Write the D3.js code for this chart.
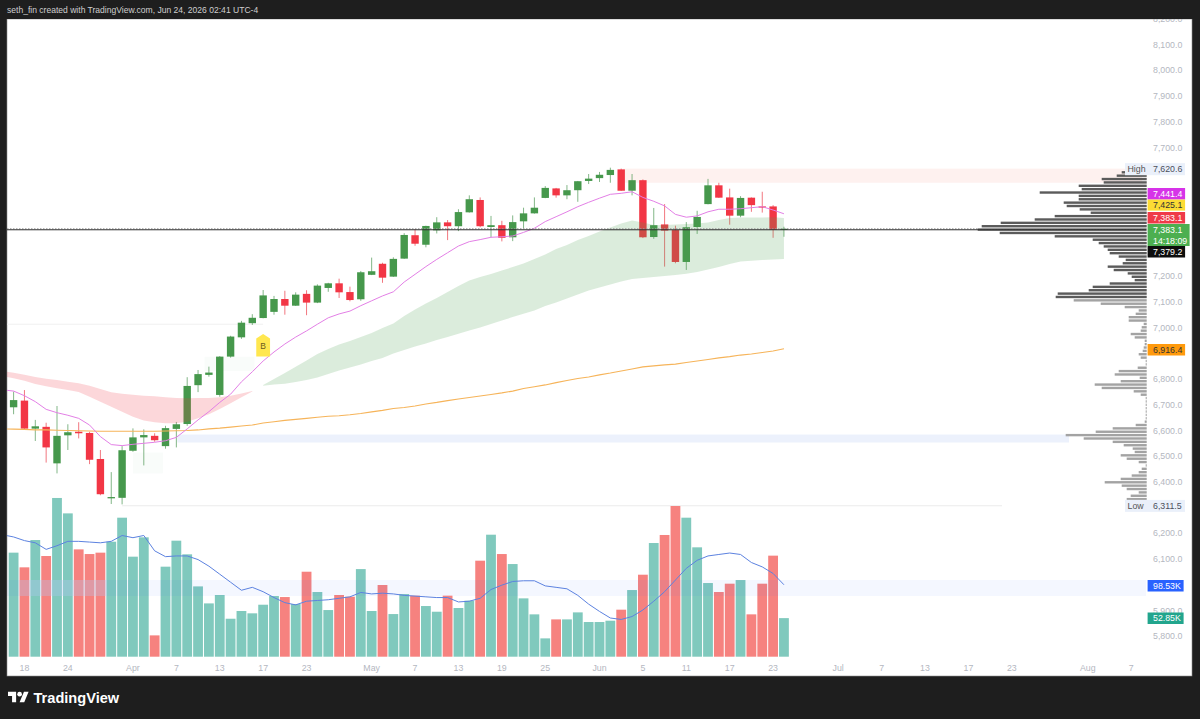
<!DOCTYPE html>
<html>
<head>
<meta charset="utf-8">
<title>S&amp;P 500 futures daily</title>
<script src="https://cdn.jsdelivr.net/npm/d3@7/dist/d3.min.js"></script>
<style>
html,body{margin:0;padding:0;background:#1e1e1e;overflow:hidden}
svg{display:block}
text{font-family:"Liberation Sans",Arial,sans-serif}
</style>
</head>
<body>
<svg id="chart" width="1200" height="719"></svg>
<script>
// Daily candles: open, high, low, close
const opens  = [6689,6715,6606,6613,6471,6580,6594,6589,6488,6335,6337,6520,6572,6578,6538,6605,6624,6775,6815,6737,6886,6961,7016,7036,7060,7110,7084,7130,7096,7153,7171,7137,7109,7204,7247,7197,7267,7358,7321,7377,7408,7393,7447,7495,7390,7397,7350,7412,7443,7503,7540,7513,7533,7569,7580,7592,7614,7531,7572,7351,7400,7378,7254,7390,7479,7552,7505,7434,7504,7470,7470,7379.2];
const highs  = [6750,6756,6640,6629,6694,6623,6631,6594,6523,6437,6538,6607,6603,6588,6617,6632,6806,6834,6847,6888,6967,7025,7051,7145,7122,7142,7136,7144,7167,7173,7189,7158,7219,7271,7251,7272,7366,7381,7395,7428,7417,7459,7513,7505,7433,7414,7435,7465,7505,7549,7542,7553,7569,7596,7604,7620.6,7617,7596,7575,7464,7479,7395,7409,7453,7577,7562,7539,7510,7505,7527,7475,7391];
const lows   = [6662,6603,6558,6474,6432,6523,6568,6468,6347,6313,6311.5,6516,6463,6555,6528,6533,6617,6748,6808,6730,6882,6955,7009,7035,7049,7049,7083,7047,7094,7138,7114,7101,7103,7203,7173,7196,7266,7317,7311,7365,7339,7374,7446,7389,7350,7334,7335,7385,7442,7502,7504,7498,7488,7557,7565,7562,7530,7513,7347,7344,7236,7249,7223,7363,7478,7503,7399,7428,7449,7446,7348,7352];
const closes = [6717,6606,6615,6533,6578,6592,6588,6485,6351,6340,6522,6572,6581,6561,6608,6623,6772,6818,6824,6886,6964,7018,7037,7124,7110,7084,7127,7096,7162,7171,7136,7106,7214,7218,7193,7266,7359,7325,7394,7408,7393,7448,7498,7393,7397,7348,7409,7443,7465,7542,7513,7533,7568,7578,7593,7612,7531,7572,7350,7397,7376,7254,7389,7429,7552,7504,7434,7503,7475,7467,7379.2,7383.1];

// Daily traded volume, in thousands of contracts
const volumes = [142.5,122.4,159.8,137.9,217.4,196.3,147,140.6,142.5,157.5,190.4,137,163.5,29.2,123.3,158.9,140.2,96.3,73,84.5,52,62.6,59.4,71.2,83.1,81.7,72.1,116.4,88.6,63.9,84.5,82.2,120,62.6,98.2,58.4,85.8,83.6,69.4,61.6,83.6,66.7,76.7,131.5,167.1,140.6,126.9,79.9,58,25.1,51.1,51.1,60.7,47.5,47.5,49.3,64.4,91.3,112.3,155.7,166.7,206.4,190.4,149.8,100.9,88.6,100,105,58,100,138.4,52.85];
const volumeIsDown = [0,1,0,1,0,0,1,1,1,0,0,0,0,1,0,0,0,0,0,0,0,0,0,0,0,1,0,1,0,0,1,1,0,0,1,0,0,1,0,0,1,0,0,1,0,1,0,0,0,0,1,0,0,0,0,0,1,0,1,0,1,1,0,0,0,1,1,0,1,1,1,0];

// Averages start one session before the first candle, off the left edge
const leadBars = 1;
const volumeAverage = [167,164,159,156,147,152,158,158,157,156,158,166,163,166,145,137,138,138,133,124,113,102,91,95,89,81,74,71,76,77,78,80,82,88,86,87,86,84,83,82,81,81,75,76,80,92,98,103,104,104,97,95,93,84,72,62,53,51,55,64,76,89,105,121,132,138,140,142,140,129,123,114,98.53];
const fastAverage = [6757,6752,6734,6711,6681,6668,6658,6646,6620,6575,6544,6540,6545,6549,6553,6559,6572,6605,6640,6672,6708,6740,6788,6827,6869,6904,6935,6962,6986,7012,7037,7052,7063,7084,7103,7122,7138,7176,7206,7236,7264,7290,7316,7333,7341,7350,7352,7355,7369,7385,7411,7430,7449,7469,7486,7502,7517,7521,7527,7505,7490,7472,7439,7428,7433,7449,7459,7459,7461,7465,7469,7456,7441.4];
const slowAverage = [6605,6604,6603,6601,6601,6600,6599,6598,6597,6596,6596,6596,6596,6596,6596,6597,6598,6599,6601,6605,6608,6612,6616,6620,6628,6633,6638,6642,6646,6650,6654,6656,6660,6665,6671,6677,6684,6688,6694,6702,6708,6715,6721,6727,6733,6739,6745,6752,6762,6769,6776,6785,6793,6801,6807,6815,6822,6830,6838,6846,6850,6854,6857,6863,6869,6875,6881,6886,6892,6896,6902,6908,6916.4];

// Two-average cloud: bearish until the crossover bar, bullish afterwards
const bearUpper = [6830,6823,6816,6807,6800,6795,6788,6782,6773,6760,6747,6742,6738,6734,6732,6728,6725,6724,6725,6725,6728,6734,6743,6752];
const bearLower = [6810,6802,6792,6780,6771,6763,6756,6748,6730,6711,6691,6672,6652,6638,6631,6627,6627,6633,6646,6662,6682,6705,6728,6750];
const bullFirstBar = 23;
const bullUpper = [6776,6799,6822,6847,6871,6896,6916,6933,6947,6962,6978,6997,7015,7044,7069,7093,7114,7137,7161,7182,7196,7207,7221,7234,7248,7266,7283,7304,7320,7339,7355,7372,7388,7404,7415,7407,7398,7398,7400,7402,7404,7407,7417,7425,7427,7427,7427,7428,7425.1];
const bullLower = [6773,6778,6781,6787,6795,6805,6818,6832,6844,6855,6869,6881,6898,6912,6925,6937,6951,6962,6975,6988,6999,7013,7026,7040,7053,7065,7083,7096,7112,7128,7143,7155,7166,7178,7188,7192,7196,7199,7203,7208,7215,7225,7234,7246,7256,7259,7262,7264,7266];

// Volume-by-price histogram, top bin first
const profileTopPrice = 7602.6;
const profileStep = 13.1;
const profileVolume = [25,30,45,43,68,65,107,68,68,83,80,67,56,92,112,146,165,169,147,92,54,48,43,39,37,28,21,24,39,33,19,15,12,37,54,58,89,91,73,46,22,8,11,18,18,3,5,6,16,12,2,2,3,4,8,6,1,1,9,28,32,7,26,52,45,13,6,1,1,1,1,1,1,1,2,11,34,51,81,63,34,23,14,12,26,20,8,1,5,8,15,26,42,25,20,8,16,20];
const profileValueAreaRows = 38;

// Time axis labels, with the bar number each one sits on
const timeLabels = ["18","24","Apr","7","13","17","23","May","7","13","19","25","Jun","5","11","17","23","Jul","7","13","17","23","Aug","7"];
const timeLabelBars = [1,5,11,15,19,23,27,33,37,41,45,49,54,58,62,66,70,76,80,84,88,92,99,103];

// Price axis ticks and header; levels sitting under a value tag are left out
const priceTicks = [5800,5900,6100,6200,6400,6500,6600,6700,6800,7000,7100,7200,7700,7800,7900,8000,8100,8200];
const headerText = "seth_fin created with TradingView.com, Jun 24, 2026 02:41 UTC-4";

const last = closes.length - 1;
const svg = d3.select("#chart");

// Scales
const x = d3.scaleLinear().domain([0, 103]).range([13.6, 1131.15]);
const y = d3.scaleLinear().domain([5800, 8200]).range([635.94, 18.66]);
const vol = d3.scaleLinear().domain([0, 219]).range([656.7, 496.8]);
const profileX = d3.scaleLinear().domain([0, 169]).range([1146.7, 977.7]);

const plotRight = 1192;
svg.append("rect").attr("x", 7).attr("y", 19).attr("width", plotRight - 7).attr("height", 657)
  .attr("fill", "#ffffff").attr("stroke", "#8c8c8c").attr("stroke-width", 0.6);

svg.append("clipPath").attr("id", "plot-clip").append("rect")
  .attr("x", 7).attr("y", 19).attr("width", plotRight - 7).attr("height", 657);
const plot = svg.append("g").attr("clip-path", "url(#plot-clip)");

// Horizontal zones and their faint guide lines
const zones = plot.append("g");
zones.append("rect").attr("x", x(56) + 2).attr("width", 1140 - x(56))
  .attr("y", y(7617)).attr("height", y(7562) - y(7617)).attr("fill", "#fef1ef");
zones.append("rect").attr("x", x(15) + 1).attr("width", 1068 - x(15))
  .attr("y", y(6583)).attr("height", y(6552) - y(6583)).attr("fill", "#ecf1fc");
zones.append("line").attr("x1", 7).attr("x2", x(23)).attr("y1", y(7012)).attr("y2", y(7012))
  .attr("stroke", "#f0f0f0");
zones.append("line").attr("x1", x(10)).attr("x2", 1002).attr("y1", y(6306)).attr("y2", y(6306))
  .attr("stroke", "#ebebeb");
zones.append("rect").attr("x", x(11)).attr("width", 30).attr("y", y(6513)).attr("height", y(6432) - y(6513))
  .attr("fill", "#4caf50").attr("opacity", 0.03);
zones.append("rect").attr("x", x(20) - 26).attr("width", 50).attr("y", y(6885)).attr("height", y(6830) - y(6885))
  .attr("fill", "#4caf50").attr("opacity", 0.03);

// Price axis
const axisG = svg.append("g").attr("transform", "translate(1153,0)")
  .call(d3.axisRight(y).tickValues(priceTicks).tickFormat(d3.format(",.1f")).tickSize(0).tickPadding(0));
axisG.select(".domain").remove();
axisG.selectAll("text").attr("fill", "#b4b7bf").style("font-size", "8.8px")
  .attr("font-family", '"Liberation Sans",sans-serif');

// Time axis
svg.append("g").selectAll("text").data(timeLabels).join("text")
  .attr("x", (d, i) => x(timeLabelBars[i])).attr("y", 670.5)
  .attr("text-anchor", "middle").attr("fill", "#b4b7bf").style("font-size", "8.8px")
  .text(d => d);

// Volume histogram
plot.append("g").selectAll("rect").data(volumes).join("rect")
  .attr("x", (d, i) => x(i) - 4.9).attr("width", 9.8)
  .attr("y", d => vol(d)).attr("height", d => vol(0) - vol(d))
  .attr("fill", (d, i) => volumeIsDown[i] ? "#f6827f" : "#80c9bd");

// Volume zone, tinting the bars it crosses
plot.append("rect").attr("x", 7).attr("width", 1139)
  .attr("y", 580).attr("height", 16).attr("fill", "#2962ff").attr("opacity", 0.05);
plot.append("rect").attr("x", 20).attr("width", 87)
  .attr("y", 580).attr("height", 16).attr("fill", "#c5d3f2").attr("opacity", 0.3);

// Volume average
plot.append("path").datum(volumeAverage)
  .attr("d", d3.line().x((d, i) => x(i - leadBars)).y(d => vol(d)))
  .attr("fill", "none").attr("stroke", "#5c82e0").attr("stroke-width", 1);

// Candles
const bars = d3.range(closes.length);
const candle = plot.append("g").selectAll("g").data(bars).join("g");
candle.append("line")
  .attr("x1", i => x(i)).attr("x2", i => x(i))
  .attr("y1", i => y(highs[i])).attr("y2", i => y(lows[i]))
  .attr("stroke", i => closes[i] >= opens[i] ? "#5a9f60" : "#ee4a56").attr("stroke-width", 1).attr("opacity", 0.75);
candle.append("rect")
  .attr("x", i => x(i) - 3.7).attr("width", 7.4)
  .attr("y", i => y(Math.max(opens[i], closes[i])))
  .attr("height", i => Math.max(1.2, Math.abs(y(opens[i]) - y(closes[i]))))
  .attr("fill", i => closes[i] >= opens[i] ? "#46984c" : "#f23645");

// Cloud, laid over the candles
const bandArea = (first, upper, lower) => d3.area()
  .x((d, i) => x(first + i)).y0((d, i) => y(lower[i])).y1(d => y(d))(upper);
plot.append("path").attr("d", bandArea(-leadBars, bearUpper, bearLower)).attr("fill", "#f23645").attr("opacity", 0.2);
plot.append("path").attr("d", bandArea(bullFirstBar, bullUpper, bullLower)).attr("fill", "#4a9f50").attr("opacity", 0.2);

// Price averages
const priceLine = d3.line().x((d, i) => x(i - leadBars)).y(d => y(d));
plot.append("path").attr("d", priceLine(slowAverage)).attr("fill", "none").attr("stroke", "#f6b45a").attr("stroke-width", 1.1);
plot.append("path").attr("d", priceLine(fastAverage)).attr("fill", "none").attr("stroke", "#e37fe6").attr("stroke-width", 1);

// Entry badge anchored on the bar it refers to
const badgeX = x(23), badgeTop = y(7000) + 6.6;
plot.append("path")
  .attr("d", `M${badgeX},${badgeTop}l6.9,4.5v18.2h-13.8v-18.2z`)
  .attr("fill", "#ffe74f");
plot.append("text").attr("x", badgeX).attr("y", badgeTop + 15.5).attr("text-anchor", "middle")
  .style("font-size", "8.5px").attr("fill", "#6b5a1e").text("B");

// Volume-by-price rows
plot.append("g").selectAll("rect").data(profileVolume).join("rect")
  .attr("x", d => profileX(d)).attr("width", d => profileX(0) - profileX(d))
  .attr("y", (d, i) => y(profileTopPrice - i * profileStep) - 1.2).attr("height", 2.4)
  .attr("fill", (d, i) => i < profileValueAreaRows ? "#5b5b5b" : "#a3a3a3");

// Last-price lines
plot.append("line").attr("x1", 7).attr("x2", 1146).attr("y1", y(7383.1)).attr("y2", y(7383.1))
  .attr("stroke", "#9a9a9a").attr("stroke-dasharray", "1.5 1.5");
plot.append("line").attr("x1", 7).attr("x2", 1146).attr("y1", y(7379.2)).attr("y2", y(7379.2))
  .attr("stroke", "#2e2e2e");

// Value tags on the price axis
const fmt = d3.format(",.1f");
const tags = [
  {text: fmt(fastAverage[fastAverage.length - 1]), top: 188, h: 11.5, w: 37.5, fill: "#d633e8", ink: "#fff"},
  {text: fmt(bullUpper[bullUpper.length - 1]), top: 199.6, h: 11, w: 37.5, fill: "#fcdc34", ink: "#333"},
  {text: fmt(closes[last]), top: 212, h: 11.5, w: 37.5, fill: "#ef3a48", ink: "#fff"},
  {text: fmt(closes[last]), top: 224, h: 11, w: 42, fill: "#4caf50", ink: "#fff"},
  {text: "14:18:09", top: 235, h: 11, w: 42, fill: "#4caf50", ink: "#fff"},
  {text: fmt(closes[last - 1]), top: 246, h: 11.5, w: 37.5, fill: "#0d0d0d", ink: "#fff"},
  {text: fmt(slowAverage[slowAverage.length - 1]), top: 344, h: 11.5, w: 37.5, fill: "#ff9a0d", ink: "#333"},
  {text: d3.format(".2f")(volumeAverage[volumeAverage.length - 1]) + "K", top: 580, h: 11.5, w: 36, fill: "#2962ff", ink: "#fff"},
  {text: d3.format(".2f")(volumes[last]) + "K", top: 612.5, h: 11.5, w: 36, fill: "#22a58d", ink: "#fff"}
];
const tagG = svg.append("g").selectAll("g").data(tags).join("g");
tagG.append("rect").attr("x", 1147.6).attr("y", d => d.top).attr("width", d => d.w).attr("height", d => d.h)
  .attr("fill", d => d.fill);
tagG.append("text").attr("x", 1153).attr("y", d => d.top + d.h / 2 + 3.1)
  .attr("fill", d => d.ink).style("font-size", "8.8px").text(d => d.text);

// High and low of the visible range
const extremes = [
  {name: "High", value: d3.max(highs)},
  {name: "Low", value: d3.min(lows)}
];
const extG = svg.append("g").selectAll("g").data(extremes).join("g")
  .attr("transform", d => `translate(0,${y(d.value) + 1.5})`);
extG.append("rect").attr("x", 1125).attr("y", -6).attr("width", 60).attr("height", 12).attr("fill", "#eaf0fa");
extG.append("text").attr("x", 1127.5).attr("y", 3.1).attr("fill", "#555").style("font-size", "8.8px").text(d => d.name);
extG.append("text").attr("x", 1153).attr("y", 3.1).attr("fill", "#4a4f5c").style("font-size", "8.8px").text(d => fmt(d.value));

// Dark title strip above the chart
svg.append("rect").attr("width", 1200).attr("height", 19).attr("fill", "#1e1e1e");
svg.append("text").attr("x", 7).attr("y", 13).attr("fill", "#cfcfcf").style("font-size", "8.55px")
  .attr("font-family", '"Open Sans",sans-serif').text(headerText);

// Footer wordmark
const logo = svg.append("g").attr("transform", "translate(8,689.5) scale(0.58)").attr("fill", "#ffffff");
logo.append("path").attr("d", "M14 22H7V11H0V4h14v18zM28 22h-8l7.5-18h8L28 22z");
logo.append("circle").attr("cx", 20).attr("cy", 8).attr("r", 4);
svg.append("text").attr("x", 33.5).attr("y", 703.3).attr("fill", "#ffffff")
  .attr("font-family", "Inter,sans-serif").style("font-size", "14.6px").style("font-weight", "600")
  .text("TradingView");
</script>
</body>
</html>
